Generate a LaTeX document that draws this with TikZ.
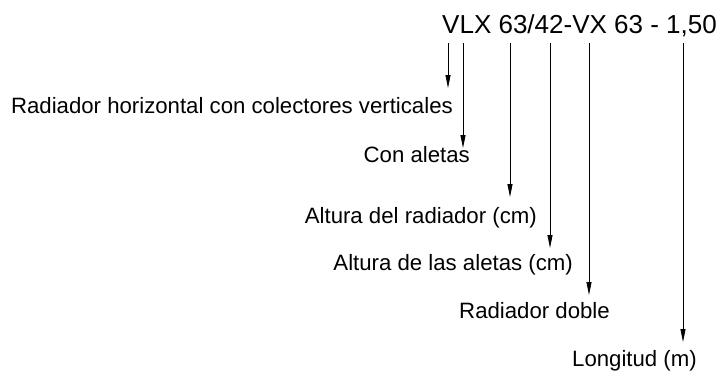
\documentclass[tikz,border=0pt]{standalone}
\usepackage{fontspec}
\setmainfont{Liberation Sans}
\usetikzlibrary{arrows.meta}

\begin{document}
\begin{tikzpicture}[x=1pt, y=-1pt,
    lbl/.style={inner sep=0pt, anchor=base east, font=\fontsize{22.2}{26}\selectfont},
    tick/.style={-{Triangle[length=13pt, width=5pt]}, line width=0.8pt}]
    \useasboundingbox (0,0) rectangle (726,370);
    \node[inner sep=0pt, anchor=base west, font=\fontsize{26}{30}\selectfont] (code) at (442,33) {VLX 63/42-VX 63 - 1,50};
    \node[lbl] (horiz) at (453,113) {Radiador horizontal con colectores verticales};
    \node[lbl] (aletas) at (470,162) {Con aletas};
    \node[lbl] (altrad) at (537,223) {Altura del radiador (cm)};
    \node[lbl] (altalet) at (573,270) {Altura de las aletas (cm)};
    \node[lbl] (doble) at (610,318) {Radiador doble};
    \node[lbl] (longit) at (697,366) {Longitud (m)};
    % start and end points of the arrows
    \coordinate (s1) at (448,43);  \coordinate (e1) at (448,88);
    \coordinate (s2) at (463,43);  \coordinate (e2) at (463,148);
    \coordinate (s3) at (510,43);  \coordinate (e3) at (510,197);
    \coordinate (s4) at (550,43);  \coordinate (e4) at (550,248);
    \coordinate (s5) at (589,43);  \coordinate (e5) at (589,295);
    \coordinate (s6) at (683,43);  \coordinate (e6) at (683,342);
    \foreach \i in {1,...,6}
        \draw[tick] (s\i) -- (e\i);
\end{tikzpicture}
\end{document}
